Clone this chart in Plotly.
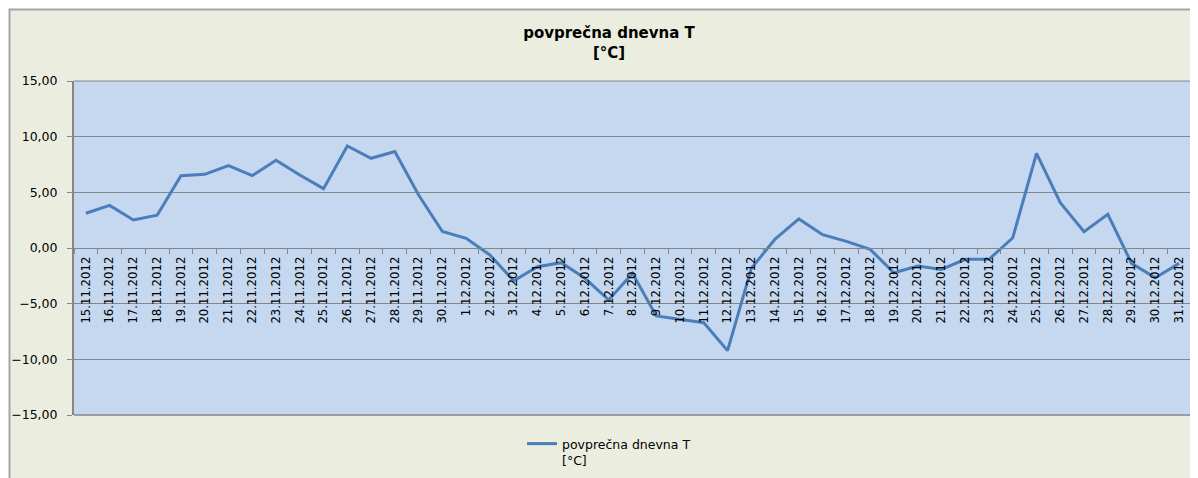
import plotly.graph_objects as go

dates = ["15.11.2012", "16.11.2012", "17.11.2012", "18.11.2012", "19.11.2012", "20.11.2012",
         "21.11.2012", "22.11.2012", "23.11.2012", "24.11.2012", "25.11.2012", "26.11.2012",
         "27.11.2012", "28.11.2012", "29.11.2012", "30.11.2012", "1.12.2012", "2.12.2012",
         "3.12.2012", "4.12.2012", "5.12.2012", "6.12.2012", "7.12.2012", "8.12.2012",
         "9.12.2012", "10.12.2012", "11.12.2012", "12.12.2012", "13.12.2012", "14.12.2012",
         "15.12.2012", "16.12.2012", "17.12.2012", "18.12.2012", "19.12.2012", "20.12.2012",
         "21.12.2012", "22.12.2012", "23.12.2012", "24.12.2012", "25.12.2012", "26.12.2012",
         "27.12.2012", "28.12.2012", "29.12.2012", "30.12.2012", "31.12.2012"]

temps = [3.12, 3.83, 2.52, 2.94, 6.50, 6.62, 7.40, 6.50, 7.88, 6.56, 5.33, 9.16,
         8.06, 8.67, 4.76, 1.48, 0.87, -0.63, -2.94, -1.68, -1.32, -2.72, -4.67, -2.27,
         -6.10, -6.38, -6.71, -9.22, -1.83, 0.81, 2.61, 1.20, 0.60, -0.12, -2.22, -1.62,
         -1.92, -1.02, -1.02, 0.92, 8.50, 4.07, 1.47, 3.03, -1.38, -2.67, -1.38]

series_name = "povprečna dnevna T<br>[°C]"
title_text = "<b>povprečna dnevna T<br>[°C]</b>"
y_ticks = [-15, -10, -5, 0, 5, 10, 15]

# the page body adds an 8px offset; figure coordinates = screen - 8
W, H = 1190, 470
L, R, T, B = 66, 7, 73, 63
pw, ph = W - L - R, H - T - B

def px_x(p):
    return (p - L) / pw

def px_y(p):
    return (H - B - p) / ph

GRID = "#868686"
FONT = "DejaVu Sans"

fig = go.Figure()
fig.add_trace(go.Scatter(
    x=dates, y=temps, mode="lines", name=series_name,
    line=dict(color="#4A7EBB", width=3), showlegend=True,
))

fig.update_layout(
    width=W, height=H,
    margin=dict(l=L, r=R, t=T, b=B, pad=0, autoexpand=False),
    paper_bgcolor="white",
    plot_bgcolor="rgba(0,0,0,0)",
    separators=",.",
    font=dict(family=FONT, size=12, color="#000000"),
    title=dict(text=title_text, xref="container", x=601 / W, xanchor="center",
               yref="container", y=1 - 30 / H, yanchor="top",
               font=dict(family=FONT, size=15, color="#000000")),
    showlegend=True,
    legend=dict(xref="container", yref="container", x=514 / W, xanchor="left",
                y=1 - 421 / H, yanchor="top", bgcolor="rgba(0,0,0,0)",
                valign="top", font=dict(family=FONT, size=12.5, color="#000000"),
                tracegroupgap=0, itemwidth=30),
    shapes=[
        dict(type="rect", xref="paper", yref="paper", layer="below",
             x0=px_x(1.5), x1=px_x(1260), y0=px_y(520), y1=px_y(1.5),
             fillcolor="#EBEEDF", line=dict(color="#A6A6A6", width=2)),
        dict(type="rect", xref="paper", yref="paper", layer="below",
             x0=0, x1=1, y0=0, y1=1, fillcolor="#C5D8F0", line=dict(width=0)),
        dict(type="line", xref="paper", yref="paper", layer="below",
             x0=0, x1=1, y0=1, y1=1, line=dict(color=GRID, width=1)),
        dict(type="line", xref="paper", yref="paper", layer="below",
             x0=0, x1=1, y0=0, y1=0, line=dict(color=GRID, width=1.5)),
    ],
)

fig.update_yaxes(
    range=[-15, 15], tickvals=y_ticks, tickformat=".2f",
    showgrid=True, gridcolor=GRID, gridwidth=1, zeroline=False,
    showline=True, linecolor=GRID, linewidth=2,
    ticks="outside", ticklen=5, tickcolor=GRID, tickwidth=1,
    ticklabelstandoff=7,
    tickfont=dict(family=FONT, size=12.5, color="#000000"),
    automargin=False, fixedrange=True,
)

fig.update_xaxes(
    type="category", range=[-0.5, len(dates) - 0.5],
    anchor="free", position=0.5,
    showgrid=False, zeroline=False,
    showline=True, linecolor=GRID, linewidth=1,
    ticks="outside", ticklen=5, tickcolor=GRID, tickwidth=1,
    tickson="boundaries", tickangle=-90, ticklabelstandoff=3,
    tickfont=dict(family=FONT, size=11.7, color="#000000"),
    automargin=False, fixedrange=True,
)

fig.write_html("out.html")
